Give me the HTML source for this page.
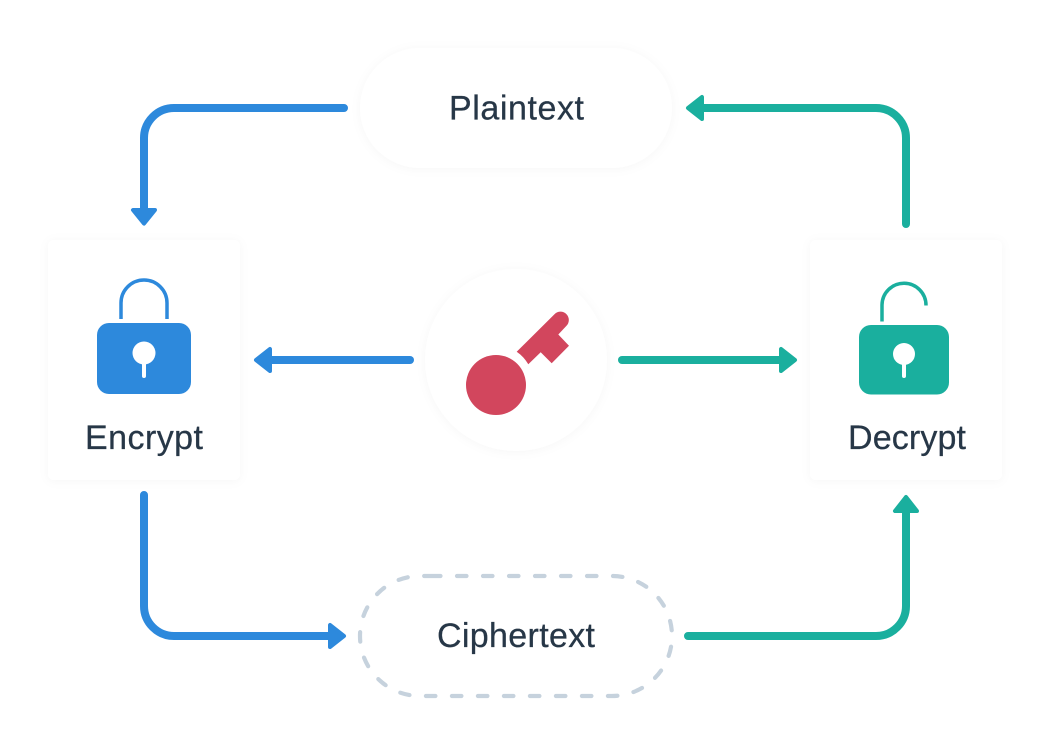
<!DOCTYPE html>
<html>
<head>
<meta charset="utf-8">
<style>
html,body{margin:0;padding:0;background:#fff;width:1050px;height:744px;overflow:hidden}
svg{display:block}
text{font-family:"Liberation Sans",sans-serif;font-size:34px;fill:#273747;stroke:#273747;stroke-width:.25px}
</style>
</head>
<body>
<svg width="1050" height="744" viewBox="0 0 1050 744" xmlns="http://www.w3.org/2000/svg">
<defs>
<filter id="s" x="-20%" y="-20%" width="140%" height="140%">
<feDropShadow dx="0" dy="1" stdDeviation="5" flood-color="#000" flood-opacity="0.035"/>
</filter>
</defs>
<rect width="1050" height="744" fill="#fff"/>

<!-- nodes -->
<rect x="360" y="48" width="312" height="120" rx="60" fill="#fff" filter="url(#s)"/>
<rect x="48" y="240" width="192" height="240" rx="6" fill="#fff" filter="url(#s)"/>
<rect x="810" y="240" width="192" height="240" rx="6" fill="#fff" filter="url(#s)"/>
<circle cx="516" cy="360" r="91" fill="#fff" filter="url(#s)"/>
<path d="M431 576H612A60 60 0 0 1 612 696H420A60 60 0 0 1 420 576Z" fill="none" stroke="#c6d2dd" stroke-width="4.200" stroke-linecap="round" stroke-dasharray="9.500 16.500"/>

<!-- connectors -->
<g fill="none" stroke-width="8" stroke-linecap="round">
<path d="M344 108H174A30 30 0 0 0 144 138V212" stroke="#2d89dc"/>
<path d="M410 360H270" stroke="#2d89dc"/>
<path d="M144 495V606A30 30 0 0 0 174 636H330" stroke="#2d89dc"/>
<path d="M906 224V138A30 30 0 0 0 876 108H702" stroke="#1aaf9e"/>
<path d="M622 360H781" stroke="#1aaf9e"/>
<path d="M688 636H876A30 30 0 0 0 906 606V511" stroke="#1aaf9e"/>
</g>
<g stroke-width="4" stroke-linejoin="round">
<path d="M133 210H155L144 223.600Z" fill="#2d89dc" stroke="#2d89dc"/>
<path d="M270 349V371L256 360Z" fill="#2d89dc" stroke="#2d89dc"/>
<path d="M330 625V647L344 636Z" fill="#2d89dc" stroke="#2d89dc"/>
<path d="M702 97V119L688 108Z" fill="#1aaf9e" stroke="#1aaf9e"/>
<path d="M781 349V371L795 360Z" fill="#1aaf9e" stroke="#1aaf9e"/>
<path d="M895 511H917L906 497Z" fill="#1aaf9e" stroke="#1aaf9e"/>
</g>

<!-- encrypt lock -->
<path d="M121 319V303A23 23 0 0 1 167 303V319" fill="none" stroke="#2d89dc" stroke-width="3.500"/>
<rect x="97" y="323" width="94" height="71" rx="12" fill="#2d89dc"/>
<circle cx="144" cy="353" r="11.500" fill="#fff"/>
<path d="M144 360V376" stroke="#fff" stroke-width="4" stroke-linecap="round"/>

<!-- decrypt lock -->
<path d="M882 321.500V305A22 22 0 0 1 926 305.500" fill="none" stroke="#1aaf9e" stroke-width="3.500"/>
<rect x="859" y="325" width="90" height="69.500" rx="12" fill="#1aaf9e"/>
<circle cx="904" cy="354" r="11" fill="#fff"/>
<path d="M904 360V376" stroke="#fff" stroke-width="4" stroke-linecap="round"/>

<!-- key -->
<circle cx="496" cy="385" r="30" fill="#d2465d"/>
<path d="M516.700 351.700L554.600 314.100A8.300 8.300 0 0 1 566.400 325.900L558.300 334.500L569 345.700L551.700 363.300L540.700 352.300L528.300 364.300A38 38 0 0 0 516.700 351.700Z" fill="#d2465d"/>

<!-- labels -->
<text x="449" y="119.500" textLength="135" lengthAdjust="spacing">Plaintext</text>
<text x="85" y="449" textLength="118" lengthAdjust="spacing">Encrypt</text>
<text x="848" y="449" textLength="118" lengthAdjust="spacing">Decrypt</text>
<text x="437" y="647" textLength="158" lengthAdjust="spacing">Ciphertext</text>
</svg>
</body>
</html>
